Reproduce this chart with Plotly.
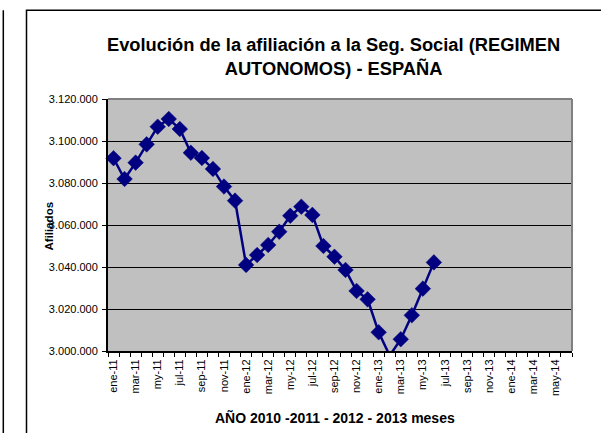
import plotly.graph_objects as go

# ---------------- data ----------------
months = [
    "ene-11", "feb-11", "mar-11", "abr-11", "my-11", "jun-11", "jul-11", "ago-11", "sep-11", "oct-11", "nov-11", "dic-11",
    "ene-12", "feb-12", "mar-12", "abr-12", "my-12", "jun-12", "jul-12", "ago-12", "sep-12", "oct-12", "nov-12", "dic-12",
    "ene-13", "feb-13", "mar-13", "abr-13", "my-13", "jun-13", "jul-13", "ago-13", "sep-13", "oct-13", "nov-13", "dic-13",
    "ene-14", "feb-14", "mar-14", "abr-14", "may-14", "jun-14",
]
afiliados = [
    3091800, 3081900, 3089700, 3098400, 3106800, 3110500, 3105700, 3094400, 3091900, 3086700, 3078300, 3071600,
    3041000, 3045700, 3050500, 3056800, 3064400, 3068700, 3064800, 3050000, 3044900, 3038600, 3028600, 3024600,
    3008900, 2997800, 3005600, 3017000, 3029700, 3042200,
]
y_ticks = [3000000, 3020000, 3040000, 3060000, 3080000, 3100000, 3120000]
shown_labels = [m if i % 2 == 0 else "" for i, m in enumerate(months)]

Y_MIN, Y_MAX = 3000000, 3120000

# ---------------- layout helpers (pixel -> paper) ----------------
W, H = 601, 433
L, R, T, B = 108, 572, 99, 351


def px_x(p):
    return (p - L) / (R - L)


def px_y(p):
    return (B - p) / (B - T)


FONT = "Liberation Sans, Arial, sans-serif"
NAVY = "#000080"

marker_sizes = [12 if v >= Y_MIN else 0 for v in afiliados]

fig = go.Figure()
fig.add_trace(go.Scatter(
    x=months[:len(afiliados)],
    y=afiliados,
    mode="lines+markers",
    line=dict(color=NAVY, width=2.5),
    marker=dict(symbol="diamond", size=marker_sizes, color=NAVY, opacity=1,
                line=dict(width=0.5, color=NAVY)),
    cliponaxis=False,
    hoverinfo="skip",
))

fig.update_layout(
    width=W, height=H,
    margin=dict(l=L, r=W - R, t=T, b=H - B, pad=0),
    paper_bgcolor="white",
    plot_bgcolor="#C0C0C0",
    separators=",.",
    showlegend=False,
    font=dict(family=FONT, color="black", size=11),
    xaxis=dict(
        type="category",
        categoryorder="array",
        categoryarray=months,
        range=[-0.5, len(months) - 0.5],
        tickmode="array",
        tickvals=months,
        ticktext=shown_labels,
        tickangle=-90,
        tickson="boundaries",
        ticks="outside",
        ticklen=4,
        tickwidth=1,
        tickcolor="black",
        ticklabelstandoff=2,
        tickfont=dict(family=FONT, size=11, color="black"),
        showgrid=False,
        showline=True,
        linecolor="black",
        linewidth=2,
        zeroline=False,
        fixedrange=True,
    ),
    yaxis=dict(
        range=[Y_MIN, Y_MAX],
        tickmode="array",
        tickvals=y_ticks,
        tickformat=",d",
        ticks="outside",
        ticklen=4,
        tickwidth=1,
        tickcolor="black",
        ticklabelstandoff=2,
        tickfont=dict(family=FONT, size=11, color="black"),
        showgrid=True,
        gridcolor="black",
        gridwidth=1,
        showline=True,
        linecolor="black",
        linewidth=2,
        zeroline=False,
        fixedrange=True,
    ),
)

# plot-area border (top and right, grey)
fig.add_shape(type="line", xref="paper", yref="paper", x0=0, x1=1, y0=1, y1=1,
              line=dict(color="#808080", width=2))
fig.add_shape(type="line", xref="paper", yref="paper", x0=1, x1=1, y0=0, y1=1,
              line=dict(color="#808080", width=2))

# chart-area frame and neighbouring frame edge
fig.add_shape(type="rect", xref="paper", yref="paper",
              x0=px_x(26.5), x1=px_x(610), y0=px_y(10.3), y1=px_y(445),
              line=dict(color="black", width=1.5), fillcolor="rgba(0,0,0,0)", layer="below")
fig.add_shape(type="line", xref="paper", yref="paper",
              x0=px_x(3.3), x1=px_x(3.3), y0=px_y(10.3), y1=px_y(445),
              line=dict(color="black", width=1.5))

# title
fig.add_annotation(
    text="<b>Evolución de la afiliación a la Seg. Social (REGIMEN<br>AUTONOMOS) - ESPAÑA</b>",
    xref="paper", yref="paper", x=px_x(333), y=px_y(57),
    xanchor="center", yanchor="middle", showarrow=False,
    font=dict(family=FONT, size=18.3, color="black"),
)
# axis titles
fig.add_annotation(
    text="<b>Afiliados</b>", textangle=-90,
    xref="paper", yref="paper", x=px_x(48), y=px_y(225.5),
    xanchor="center", yanchor="middle", showarrow=False,
    font=dict(family=FONT, size=11.5, color="black"),
)
fig.add_annotation(
    text="<b>AÑO 2010 -2011 - 2012 - 2013 meses</b>",
    xref="paper", yref="paper", x=px_x(335), y=px_y(417),
    xanchor="center", yanchor="middle", showarrow=False,
    font=dict(family=FONT, size=14, color="black"),
)

fig.write_html(
    "out.html",
    config={"displayModeBar": False},
    post_script="document.body.style.margin='0px';document.body.style.overflow='hidden';",
)
